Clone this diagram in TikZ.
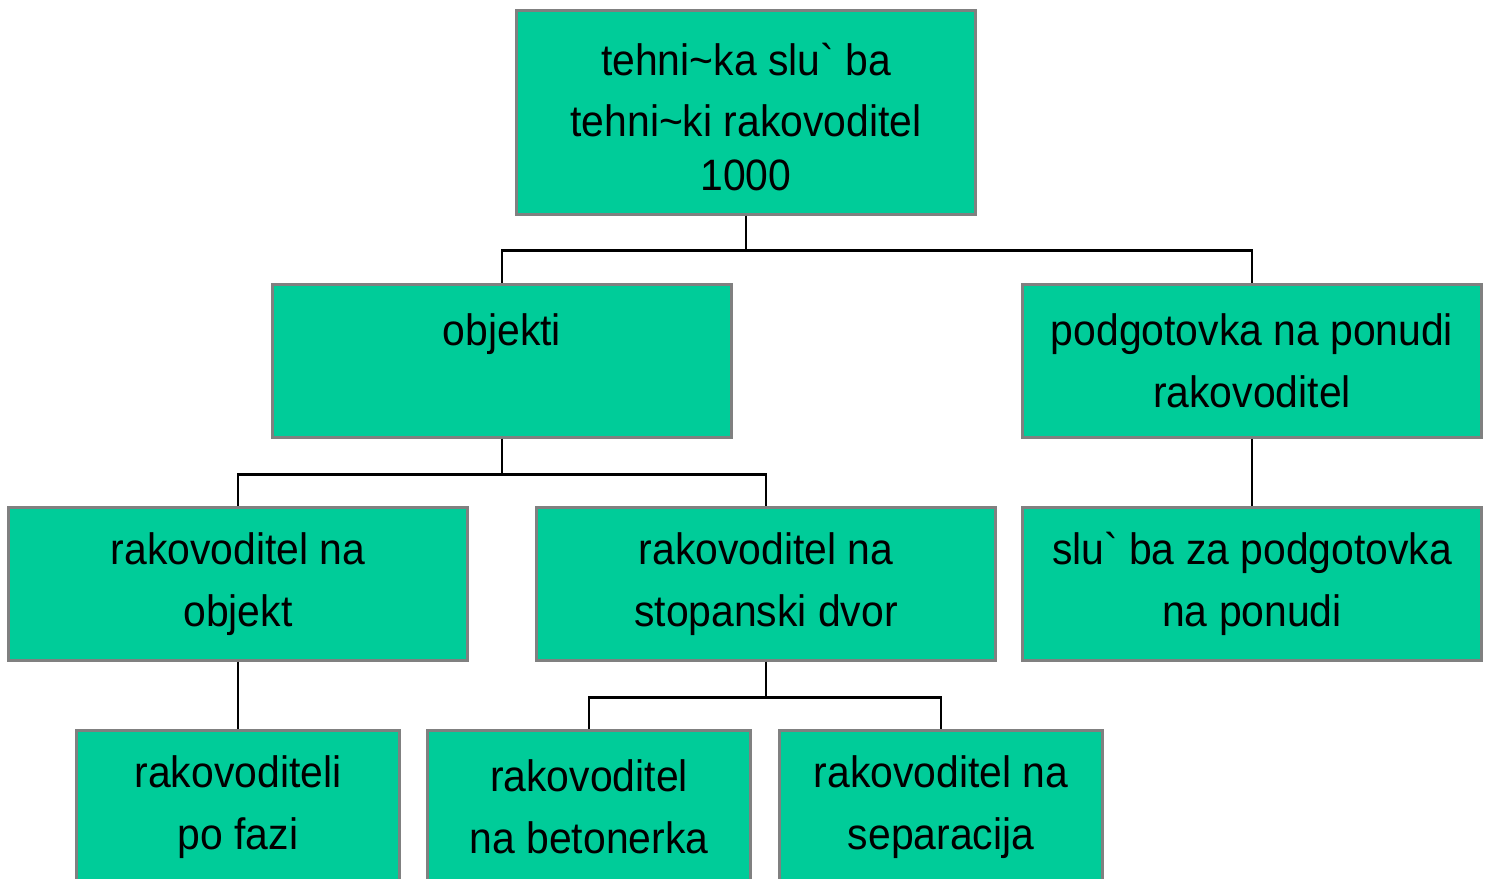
\documentclass[tikz,border=0pt]{standalone}
\usepackage{fontspec}
\setmainfont{Liberation Sans}[Ligatures=TeXOff, FakeStretch=0.93]
\usetikzlibrary{calc}
\definecolor{orggreen}{HTML}{00CC99}
\definecolor{orggray}{HTML}{808080}
\tikzset{
  unit/.style={draw=orggray, line width=0.85pt, fill=orggreen, minimum width=4.58cm, minimum height=1.52cm,
    align=center, inner sep=0pt, font=\fontsize{12.5}{17.6}\selectfont},
  smallunit/.style={unit, minimum width=3.23cm},
  link/.style={line width=0.6pt}
}

\begin{document}
\begin{tikzpicture}[x=0.01cm, y=-0.01cm]
        \useasboundingbox (0,0) rectangle (1491,879);
        \clip (0,0) rectangle (1491,879);

        % levels
        \node[unit, minimum height=2.03cm] (top) at (746,112.5) {\rule{0pt}{11.7pt}tehni\textasciitilde ka slu` ba\\tehni\textasciitilde ki rakovoditel\\[-2.3pt]1000};
        \node[unit] (obj) at (502,361) {objekti\\\mbox{}};
        \node[unit] (pon) at (1252,361) {podgotovka na ponudi\\rakovoditel};
        \node[unit] (robj) at (238,584) {rakovoditel na\\objekt};
        \node[unit] (dvor) at (766,584) {rakovoditel na\\stopanski dvor};
        \node[unit] (sluz) at (1252,584) {slu` ba za podgotovka\\na ponudi};
        \node[smallunit] (faz) at (238,807) {rakovoditeli\\po fazi};
        \node[smallunit] (bet) at (589,807) {rakovoditel\\na betonerka};
        \node[smallunit] (sep) at (941,807) {rakovoditel na\\separacija};

        % connectors
        \draw[link] (top.south) -- ++(0,35) -| (obj.north);
        \draw[link] (top.south) -- ++(0,35) -| (pon.north);
        \draw[link] (obj.south) -- ++(0,36) -| (robj.north);
        \draw[link] (obj.south) -- ++(0,36) -| (dvor.north);
        \draw[link] (pon.south) -- (sluz.north);
        \draw[link] (robj.south) -- (faz.north);
        \draw[link] (dvor.south) -- ++(0,36) -| (bet.north);
        \draw[link] (dvor.south) -- ++(0,36) -| (sep.north);

    \end{tikzpicture}
\end{document}
